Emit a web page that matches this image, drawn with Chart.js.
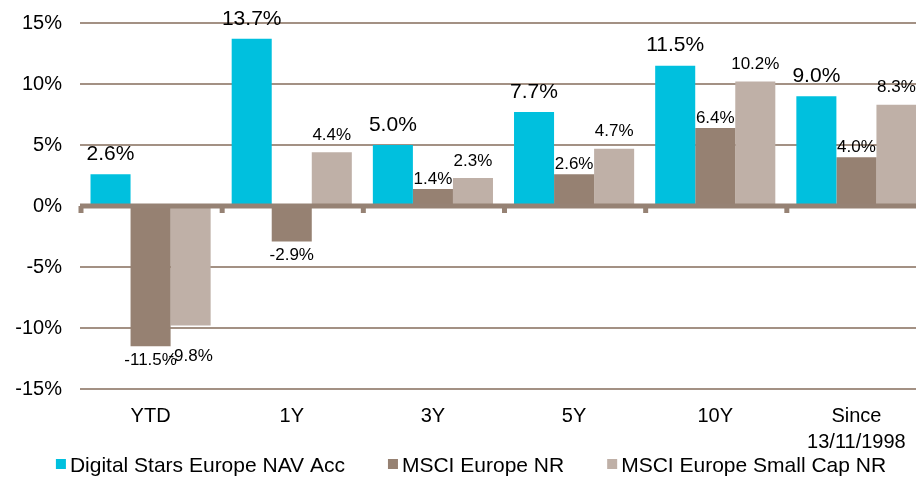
<!DOCTYPE html>
<html>
<head>
<meta charset="utf-8">
<script src="https://cdn.jsdelivr.net/npm/chart.js@4"></script>
<style>
    body { margin: 0; background: #fff; overflow: hidden; }
    #wrap { width: 927px; height: 477px; }
</style>
</head>
<body>
<div id="wrap"><canvas id="perfChart"></canvas></div>
<script>
// chart data
const categories = ["YTD", "1Y", "3Y", "5Y", "10Y", ["Since", "13/11/1998"]];
const seriesNames = ["Digital Stars Europe NAV Acc", "MSCI Europe NR", "MSCI Europe Small Cap NR"];
const starsValues = [2.6, 13.7, 5.0, 7.7, 11.5, 9.0];
const europeValues = [-11.5, -2.9, 1.4, 2.6, 6.4, 4.0];
const smallCapValues = [-9.8, 4.4, 2.3, 4.7, 10.2, 8.3];

const colors = ["#00C0DE", "#968172", "#BFB0A7"];
const gridColor = "#A39184";
const zeroColor = "#968274";
const fontFamily = '"Liberation Sans", Arial, sans-serif';

// how far each series' value label sits from the bar end
const labelStyle = [
    { size: 21, up: 20, down: 16 },
    { size: 17, up: 10, down: 14 },
    { size: 17, up: 17, down: 31 }
];

Chart.defaults.font.family = fontFamily;
Chart.defaults.color = "#000";

// zero line, little ticks on it and the value labels
const overlay = {
    id: "overlay",
    afterDatasetsDraw(chart) {
        const ctx = chart.ctx;
        const xs = chart.scales.x;
        const ys = chart.scales.y;
        const area = chart.chartArea;
        const y0 = ys.getPixelForValue(0);
        const step = xs.width / categories.length;

        ctx.save();
        ctx.strokeStyle = zeroColor;
        ctx.lineWidth = 5;
        ctx.beginPath();
        ctx.moveTo(area.left, y0);
        ctx.lineTo(area.right, y0);
        ctx.stroke();

        for (let i = 0; i < categories.length; i++) {
            const bx = xs.getPixelForValue(i) - step / 2 + 1;
            ctx.beginPath();
            ctx.moveTo(bx, y0);
            ctx.lineTo(bx, y0 + 7);
            ctx.stroke();
        }

        ctx.fillStyle = "#000";
        ctx.textAlign = "center";
        ctx.textBaseline = "middle";
        chart.data.datasets.forEach((ds, di) => {
            const st = labelStyle[di];
            ctx.font = st.size + "px " + fontFamily;
            chart.getDatasetMeta(di).data.forEach((bar, i) => {
                const v = ds.data[i];
                const ty = v >= 0 ? bar.y - st.up : bar.y + st.down;
                ctx.fillText(v.toFixed(1) + "%", bar.x, ty);
            });
        });
        ctx.restore();
    }
};

// legend along the bottom: small square right next to the name
const bottomLegend = {
    id: "bottomLegend",
    afterDraw(chart) {
        const ctx = chart.ctx;
        const box = 10, gap = 4, spacing = 43, centerX = 471, centerY = 465;
        ctx.save();
        ctx.font = "21px " + fontFamily;
        ctx.textBaseline = "middle";
        ctx.textAlign = "left";
        const widths = seriesNames.map((n) => ctx.measureText(n).width);
        let total = spacing * (seriesNames.length - 1);
        widths.forEach((w) => total += box + gap + w);
        let x = centerX - total / 2;
        seriesNames.forEach((name, i) => {
            ctx.fillStyle = colors[i];
            ctx.fillRect(x, centerY - box / 2 - 1, box, box);
            ctx.fillStyle = "#000";
            ctx.fillText(name, x + box + gap, centerY + 1);
            x += box + gap + widths[i] + spacing;
        });
        ctx.restore();
    }
};

const ctx = document.getElementById("perfChart").getContext("2d");

new Chart(ctx, {
    type: "bar",
    data: {
        labels: categories,
        datasets: [
            { label: seriesNames[0], data: starsValues, backgroundColor: colors[0] },
            { label: seriesNames[1], data: europeValues, backgroundColor: colors[1] },
            { label: seriesNames[2], data: smallCapValues, backgroundColor: colors[2] }
        ]
    },
    options: {
        responsive: true,
        maintainAspectRatio: false,
        animation: false,
        devicePixelRatio: 1,
        datasets: {
            bar: { categoryPercentage: 0.851, barPercentage: 1, borderWidth: 0 }
        },
        layout: { padding: { top: 22, left: 0, right: 0, bottom: 18 } },
        scales: {
            x: {
                grid: { display: false },
                border: { display: false },
                ticks: {
                    padding: 6,
                    maxRotation: 0,
                    autoSkip: false,
                    font: { size: 20, lineHeight: 1.3 }
                },
                afterFit(scale) { scale.height = 70; }
            },
            y: {
                min: -15,
                max: 15,
                border: { display: false },
                grid: {
                    drawTicks: false,
                    lineWidth: 2,
                    color: (c) => c.tick && c.tick.value === 0 ? "rgba(0,0,0,0)" : gridColor
                },
                ticks: {
                    stepSize: 5,
                    padding: 18,
                    font: { size: 20, lineHeight: 0.5 },
                    callback: (v) => v + "%"
                },
                afterFit(scale) { scale.width = 80; }
            }
        },
        plugins: {
            legend: { display: false },
            tooltip: { enabled: false }
        }
    },
    plugins: [overlay, bottomLegend]
});
</script>
</body>
</html>
